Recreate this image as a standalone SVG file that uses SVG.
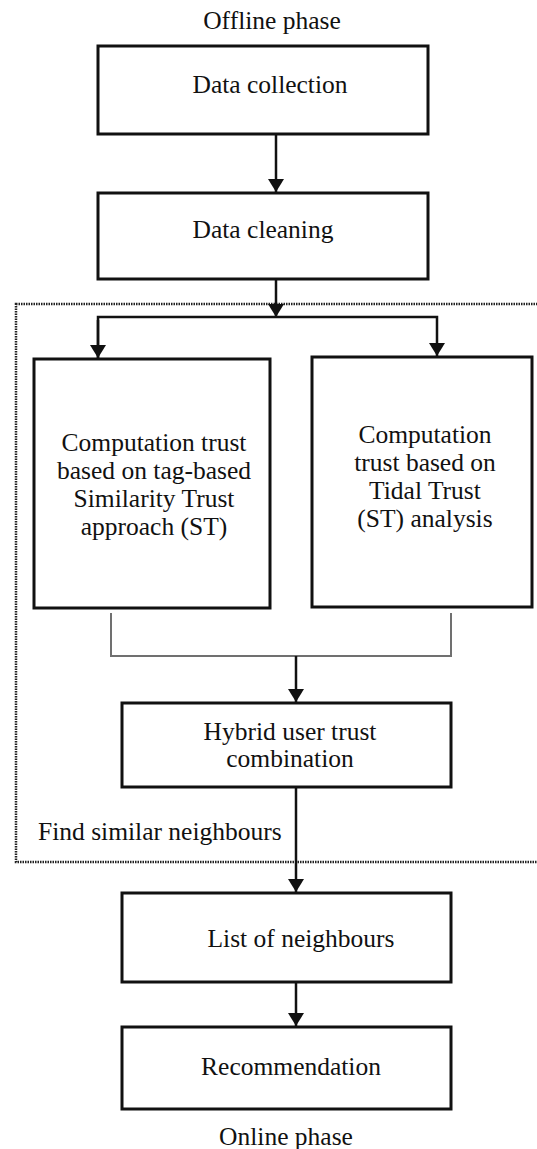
<svg xmlns="http://www.w3.org/2000/svg" width="537" height="1149" viewBox="0 0 537 1149">
  <style>
    .box { fill: #ffffff; stroke: #111111; stroke-width: 3; }
    .lbl { font-family: "Liberation Serif", "Times New Roman", serif; font-size: 25.5px; fill: #111111; text-anchor: middle; }
    .conn { fill: none; stroke: #111111; stroke-width: 2.5; }
    .gray { fill: none; stroke: #707070; stroke-width: 2; }
    .dot { fill: none; stroke: #222222; stroke-width: 2.5; stroke-dasharray: 1.5 1; }
  </style>
  <defs>
    <marker id="ah" markerUnits="userSpaceOnUse" markerWidth="17" markerHeight="17" refX="13" refY="8" orient="auto">
      <path d="M0,0 L13,8 L0,16 Z" fill="#111111"/>
    </marker>
  </defs>
  <rect width="537" height="1149" fill="#ffffff"/>

  <!-- dotted region -->
  <rect id="online-region" class="dot" x="16" y="304" width="530" height="558"/>

  <text class="lbl" x="272" y="29">Offline phase</text>
  <text class="lbl" x="38" y="840" style="text-anchor:start">Find similar neighbours</text>
  <text class="lbl" x="286" y="1145">Online phase</text>

  <g id="connectors">
    <line class="conn" x1="276" y1="134" x2="276" y2="192" marker-end="url(#ah)"/>
    <line class="conn" x1="276" y1="279" x2="276" y2="317" marker-end="url(#ah)"/>
    <polyline class="conn" points="98,358 98,317 437,317 437,356" marker-end="url(#ah)"/>
    <line class="conn" x1="98" y1="320" x2="98" y2="358" marker-end="url(#ah)"/>
    <polyline class="gray" points="111,613 111,656 451,656 451,613"/>
    <line class="conn" x1="296" y1="656" x2="296" y2="702" marker-end="url(#ah)"/>
    <line class="conn" x1="296" y1="787" x2="296" y2="892" marker-end="url(#ah)"/>
    <line class="conn" x1="296" y1="982" x2="296" y2="1026" marker-end="url(#ah)"/>
  </g>

  <g id="data-collection">
    <rect class="box" x="98" y="46" width="330" height="88"/>
    <text class="lbl" x="270" y="93">Data collection</text>
  </g>
  <g id="data-cleaning">
    <rect class="box" x="98" y="193" width="330" height="86"/>
    <text class="lbl" x="263" y="238">Data cleaning</text>
  </g>
  <g id="similarity-trust">
    <rect class="box" x="34" y="359" width="236" height="249"/>
    <text class="lbl" x="154" y="451">Computation trust</text>
    <text class="lbl" x="154" y="479">based on tag-based</text>
    <text class="lbl" x="154" y="507">Similarity Trust</text>
    <text class="lbl" x="154" y="535">approach (ST)</text>
  </g>
  <g id="tidal-trust">
    <rect class="box" x="312" y="357" width="220" height="250"/>
    <text class="lbl" x="425" y="443">Computation</text>
    <text class="lbl" x="425" y="471">trust based on</text>
    <text class="lbl" x="425" y="499">Tidal Trust</text>
    <text class="lbl" x="425" y="527">(ST) analysis</text>
  </g>
  <g id="hybrid">
    <rect class="box" x="122" y="703" width="329" height="84"/>
    <text class="lbl" x="290" y="740">Hybrid user trust</text>
    <text class="lbl" x="290" y="767">combination</text>
  </g>
  <g id="list-neighbours">
    <rect class="box" x="122" y="893" width="329" height="89"/>
    <text class="lbl" x="301" y="947">List of neighbours</text>
  </g>
  <g id="recommendation">
    <rect class="box" x="122" y="1027" width="329" height="82"/>
    <text class="lbl" x="291" y="1075">Recommendation</text>
  </g>
</svg>
